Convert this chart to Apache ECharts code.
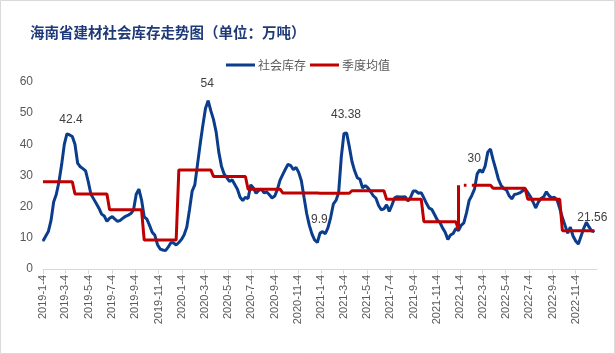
<!DOCTYPE html>
<html>
<head>
<meta charset="utf-8">
<script src="https://cdn.jsdelivr.net/npm/echarts@6/dist/echarts.min.js"></script>
<style>
html, body { margin: 0; padding: 0; background: #fff; }
#main { width: 615px; height: 354px; }
</style>
</head>
<body>
<div id="main"></div>
<script>
// 社会库存（万吨），从 2019-1-4 起每周一个值
const startDate = [2019, 1, 4];
const stockWeekly = [
    9, 10.5, 12, 15.5, 21.5, 24, 28, 33.5, 40, 43.4,
    43, 42.5, 40, 34, 32.8, 32.2, 31.5, 28, 24, 22.5,
    21, 19.5, 17.6, 17, 15.3, 16.3, 16.8, 16, 15.3, 15.6,
    16.3, 16.9, 17.3, 17.8, 19, 24, 25.6, 22.2, 16.7, 16,
    14, 11.8, 10.8, 7.8, 6.4, 6.1, 5.9, 7, 8.4, 8.4,
    7.7, 8.5, 9.5, 11, 13.5, 19, 25, 27, 33.5, 40,
    46, 51.5, 54, 50.8, 48, 44, 37.5, 33, 30.5, 29.3,
    28.1, 28.6, 27.1, 25.6, 23, 22, 23, 22.6, 27, 26,
    24.3, 25.2, 25.6, 24.4, 24.7, 23.8, 22.8, 23.4, 25.5, 28.5,
    30.3, 32, 33.6, 33.2, 31.9, 32.6, 31, 28.3, 23, 17.8,
    14, 11.2, 9.3, 8.5, 11.5, 12, 11.3, 13.3, 16.5, 20.8,
    22, 24.5, 36, 43.5, 43.6, 39.3, 34.5, 31.5, 29.3, 28.8,
    26, 26.8, 26, 24.8, 23.5, 22.7, 20.4, 19, 19.3, 20.6,
    18.5, 20.5, 22.8, 23.2, 23.1, 23.1, 23.2, 21.8, 23, 25,
    25, 24.3, 24.5, 22.8, 21, 19.5, 19.1, 17.5, 15.8, 15,
    13.2, 11.8, 9.5, 10.9, 11.4, 13, 12.3, 14, 14.8, 18,
    22, 23.6, 25.6, 30.5, 31.8, 31, 33, 37.5, 38.5, 35,
    32, 28.8, 26.8, 25.8, 25.4, 23.5, 22.5, 23.9, 24.1, 24.4,
    25, 25.8, 24.5, 23.2, 21.5, 19.6, 21.5, 22.6, 23.2, 24.8,
    23.5, 22.8, 23, 22.2, 19.5, 16.5, 14, 11.5, 13.4, 10.6,
    9, 8, 10.5, 13, 15, 13.5, 12.2, 12
];

// 季度均值，2019Q1 ~ 2022Q4
const quarterMeans = [
    28.0, 24.1, 19.0, 9.3,
    31.8, 29.7, 25.6, 24.4,
    24.3, 25.1, 22.4, 15.2,
    26.9, 25.9, 22.4, 12.3
];
// 2022 年初均值线的异常点和断开的周
const avgDips = [['2021-12-31', 12.5]];
const avgGaps = ['2022-1-7', '2022-1-28'];

// 横轴刻度
const tickLabels = [
    '2019-1-4', '2019-3-4', '2019-5-4', '2019-7-4', '2019-9-4', '2019-11-4',
    '2020-1-4', '2020-3-4', '2020-5-4', '2020-7-4', '2020-9-4', '2020-11-4',
    '2021-1-4', '2021-3-4', '2021-5-4', '2021-7-4', '2021-9-4', '2021-11-4',
    '2022-1-4', '2022-3-4', '2022-5-4', '2022-7-4', '2022-9-4', '2022-11-4'
];
const axisEnd = '2022-12-30';

// 数据标签：[周序号, 文字]
const labelNotes = [[9, '42.4'], [62, '54'], [103, '9.9'], [113, '43.38'], [163, '30'], [207, '21.56']];
const noteOffsets = [[4, -3], [-1, -6], [2, -11], [2, -7], [-3, -4], [-2, -2]];

function parseDay(s) {
    const p = s.split('-').map(Number);
    return new Date(p[0], p[1] - 1, p[2]);
}
function fmtDay(d) {
    return d.getFullYear() + '-' + (d.getMonth() + 1) + '-' + d.getDate();
}
function weekDate(k) {
    return new Date(startDate[0], startDate[1] - 1, startDate[2] + 7 * k);
}

// 社会库存折线
const stockData = stockWeekly.map((v, k) => {
    const item = { value: [weekDate(k).getTime(), v] };
    const n = labelNotes.findIndex(x => x[0] === k);
    if (n >= 0) {
        item.label = {
            show: true,
            position: 'top',
            formatter: labelNotes[n][1],
            offset: noteOffsets[n],
            color: '#404040',
            fontSize: 12,
            fontFamily: 'Liberation Sans, Arial, sans-serif'
        };
    }
    return item;
});

// 季度均值折线（每周取所在季度的均值）
const avgData = [];
stockWeekly.forEach((v, k) => {
    const d = weekDate(k);
    const key = fmtDay(d);
    avgDips.forEach(dip => {
        if (fmtDay(parseDay(dip[0])) === key) avgData.push([d.getTime(), dip[1]]);
    });
    if (avgGaps.includes(key)) {
        avgData.push([d.getTime(), null]);
        return;
    }
    const e = new Date(d.getFullYear(), d.getMonth(), d.getDate() + 6);
    const q = (e.getFullYear() - 2019) * 4 + Math.floor(e.getMonth() / 3);
    avgData.push([d.getTime(), quarterMeans[q]]);
});

const tickValues = tickLabels.map(s => parseDay(s).getTime());

const chartDom = document.getElementById('main');
const myChart = echarts.init(chartDom);

const option = {
    animation: false,
    backgroundColor: '#fff',
    title: {
        text: '海南省建材社会库存走势图（单位：万吨）',
        left: 25,
        top: 20,
        textStyle: {
            color: '#1f3a78',
            fontSize: 14.5,
            fontWeight: 'bold',
            fontFamily: 'Noto Sans CJK SC'
        }
    },
    legend: {
        left: 221,
        top: 54,
        itemWidth: 29,
        itemHeight: 3,
        itemGap: 4,
        icon: 'rect',
        textStyle: { color: '#595959', fontSize: 12, fontFamily: 'Noto Sans CJK SC', padding: [0, 0, 0, -2] },
        data: ['社会库存', '季度均值']
    },
    grid: { left: 43, right: 18, top: 82, bottom: 85 },
    xAxis: {
        type: 'value',
        min: tickValues[0],
        max: parseDay(axisEnd).getTime(),
        axisLine: { lineStyle: { color: '#d9d9d9', width: 1 } },
        axisTick: {
            show: true,
            length: 5,
            lineStyle: { color: '#d9d9d9' },
            customValues: tickValues
        },
        axisLabel: {
            rotate: 90,
            margin: 6,
            color: '#595959',
            fontSize: 11,
            fontFamily: 'Liberation Sans, Arial, sans-serif',
            customValues: tickValues,
            formatter: v => fmtDay(new Date(v))
        },
        splitLine: { show: false }
    },
    yAxis: {
        type: 'value',
        min: 0,
        max: 60,
        interval: 10,
        axisLine: { show: false },
        axisTick: { show: false },
        splitLine: { show: false },
        axisLabel: {
            margin: 10,
            color: '#595959',
            fontSize: 12,
            fontFamily: 'Liberation Sans, Arial, sans-serif'
        }
    },
    graphic: [{
        type: 'rect',
        shape: { x: 0.5, y: 0.5, width: 614, height: 353 },
        style: { fill: 'none', stroke: '#d9d9d9', lineWidth: 1 },
        silent: true
    }],
    series: [
        {
            name: '社会库存',
            type: 'line',
            data: stockData,
            showSymbol: true,
            symbol: 'circle',
            symbolSize: 1,
            itemStyle: { color: '#0b3d8c' },
            lineStyle: { color: '#0b3d8c', width: 3 },
            z: 2
        },
        {
            name: '季度均值',
            type: 'line',
            data: avgData,
            showSymbol: false,
            connectNulls: false,
            itemStyle: { color: '#c00000' },
            lineStyle: { color: '#c00000', width: 3 },
            z: 3
        }
    ]
};

myChart.setOption(option);
</script>
</body>
</html>
